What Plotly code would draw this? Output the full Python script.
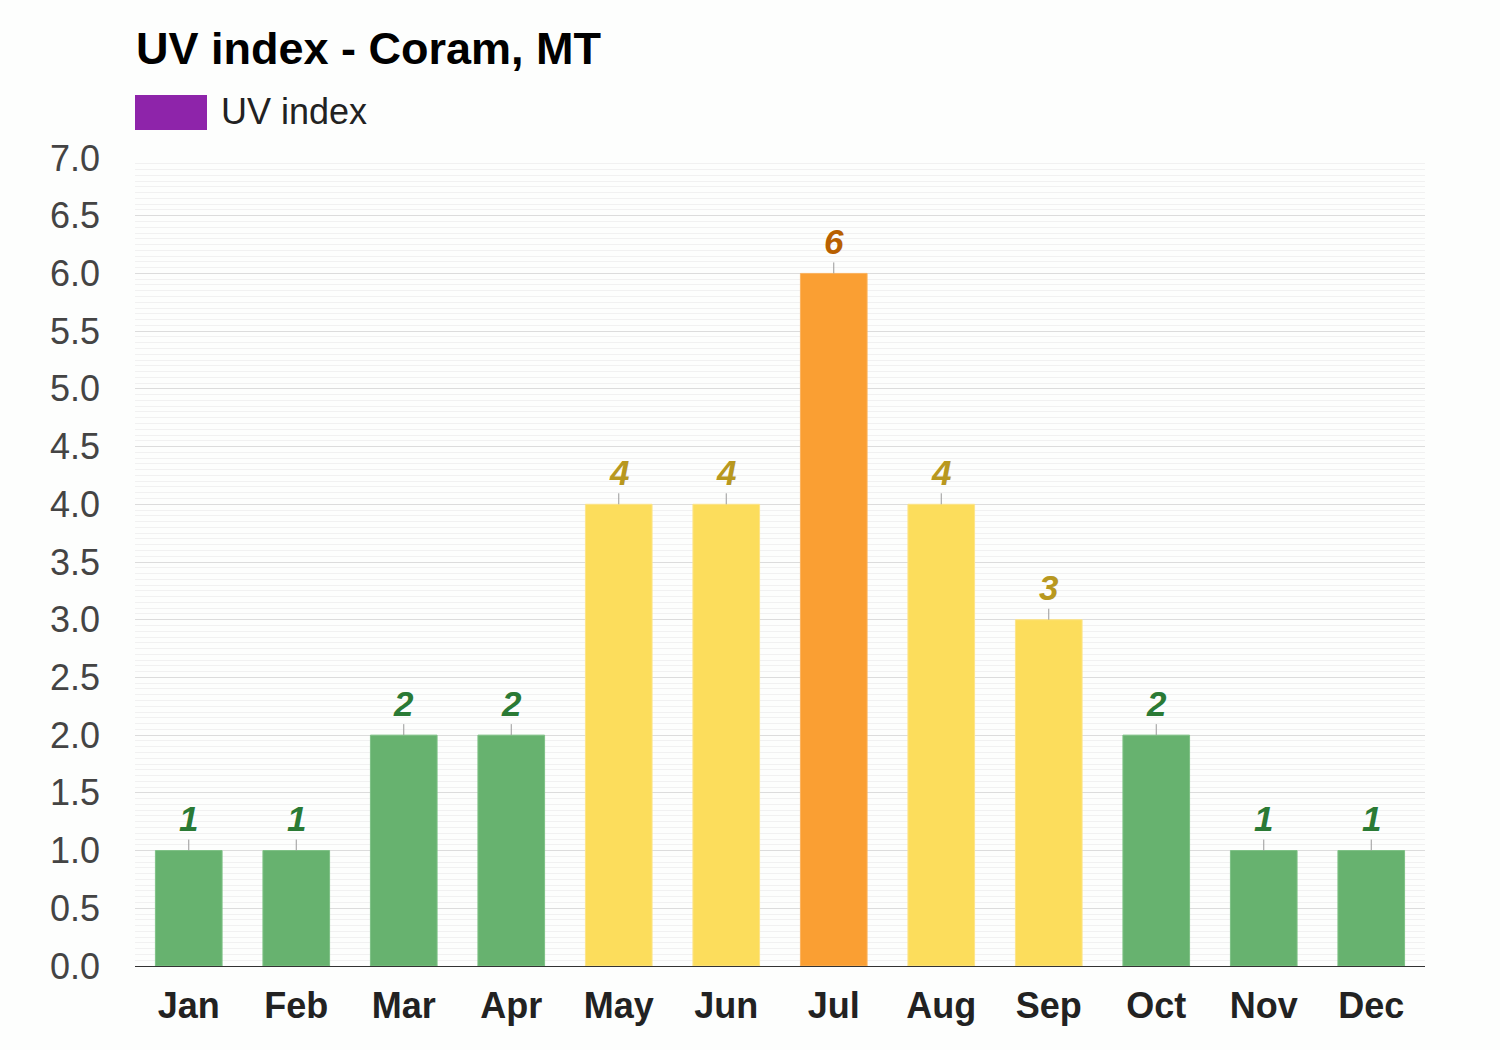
import plotly.graph_objects as go

months = ["Jan", "Feb", "Mar", "Apr", "May", "Jun", "Jul", "Aug", "Sep", "Oct", "Nov", "Dec"]
uv_index = [1, 1, 2, 2, 4, 4, 6, 4, 3, 2, 1, 1]

def level_style(v):
    if v <= 2:
        return "#67b26f", "#7dc185", "#2a7a35"
    if v <= 5:
        return "#fcdd5c", "#fde489", "#b8981f"
    return "#fa9f33", "#fbb35e", "#b86000"

fills = [level_style(v)[0] for v in uv_index]
edges = [level_style(v)[1] for v in uv_index]
label_colors = [level_style(v)[2] for v in uv_index]

# plot area in pixels
L, R, T, B = 135, 1425, 158, 966
def px_x(px):
    return (px - L) / (R - L)
def px_y(py):
    return (B - py) / (B - T)

FONT = "Liberation Sans, Arial, Helvetica"

fig = go.Figure()
fig.add_trace(go.Bar(
    x=months, y=uv_index,
    marker=dict(color=fills, line=dict(color=edges, width=1)),
    width=0.62,
    showlegend=False,
    hoverinfo="x+y",
))

annotations = []
for m, v, c in zip(months, uv_index, label_colors):
    annotations.append(dict(
        x=m, y=v, xref="x", yref="y",
        text=f"<b><i>{v}</i></b>",
        showarrow=True, arrowhead=0, arrowwidth=1, arrowcolor="#999999",
        ax=0, ay=-32,
        font=dict(family=FONT, size=35, color=c),
    ))

annotations.append(dict(
    x=px_x(134), y=px_y(48), xref="paper", yref="paper",
    xanchor="left", yanchor="middle", showarrow=False,
    text="<b>UV index - Coram, MT</b>",
    font=dict(family=FONT, size=45, color="#000000"),
))
annotations.append(dict(
    x=px_x(219), y=px_y(112), xref="paper", yref="paper",
    xanchor="left", yanchor="middle", showarrow=False,
    text="UV index",
    font=dict(family=FONT, size=36, color="#222222"),
))

fig.update_layout(
    width=1500, height=1050,
    margin=dict(l=L, r=1500 - R, t=T, b=1050 - B),
    paper_bgcolor="#fdfefd", plot_bgcolor="#fdfefd",
    annotations=annotations,
    shapes=[dict(
        type="rect", xref="paper", yref="paper",
        x0=px_x(135), x1=px_x(207), y0=px_y(130), y1=px_y(95),
        fillcolor="#8e24aa", line=dict(width=0),
    )],
    xaxis=dict(
        showgrid=False, showline=True, linecolor="#333333", linewidth=1,
        tickfont=dict(family=FONT, size=36, color="#222222", weight="bold"),
        ticklabelstandoff=8,
        range=[-0.5, 11.5],
    ),
    yaxis=dict(
        range=[0, 7], dtick=0.5, tickformat=".1f",
        showgrid=True, gridcolor="#dcdcdc", gridwidth=1,
        zeroline=False,
        tickfont=dict(family=FONT, size=36, color="#444444"),
        ticklabelstandoff=34,
        minor=dict(dtick=0.05, showgrid=True, gridcolor="#f1f1f1", gridwidth=1),
    ),
)

fig.write_html("out.html")
